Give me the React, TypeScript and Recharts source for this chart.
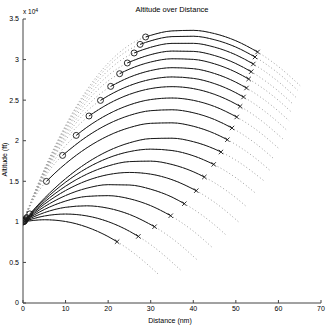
import React from 'react'
import { ComposedChart, Line, Scatter, XAxis, YAxis } from 'recharts'

const distanceTicks = [0, 10, 20, 30, 40, 50, 60, 70]
const altitudeTicks = [0, 5000, 10000, 15000, 20000, 25000, 30000, 35000]

// each trajectory: [distance (nm), altitude (ft)]
const c01 = [[0, 10000], [5, 16482], [10, 21902], [15, 26261], [20, 29558], [25, 31794], [28.8, 32783], [30, 32984], [35, 33531], [40, 33602], [45, 33198], [50, 32319], [55.1, 30934], [60, 29137], [65.1, 26782]]
const c02 = [[0, 10000], [5, 16417], [10, 21750], [15, 25998], [20, 29162], [25, 31241], [27.5, 31871], [30, 32311], [35, 32830], [40, 32875], [45, 32445], [50, 31539], [54.5, 30318], [60, 28304], [64.5, 26228]]
const c03 = [[0, 10000], [5, 16330], [10, 21549], [15, 25658], [20, 28656], [25, 30544], [26.1, 30811], [30, 31516], [35, 31995], [40, 32000], [45, 31530], [50, 30584], [54.1, 29455], [60, 27269], [64.1, 25360]]
const c04 = [[0, 10000], [5, 16222], [10, 21302], [15, 25240], [20, 28036], [24.5, 29579], [30, 30608], [35, 31047], [40, 31010], [45, 30497], [50, 29510], [53.6, 28506], [55, 28049], [60, 26111], [63.6, 24423]]
const c05 = [[0, 10000], [5, 16120], [10, 21055], [15, 24804], [20, 27368], [22.7, 28260], [25, 28825], [30, 29699], [35, 30099], [40, 30024], [45, 29474], [50, 28449], [53, 27606], [55, 26949], [60, 24974], [63, 23561]]
const c06 = [[0, 10000], [5, 15996], [10, 20746], [15, 24249], [20.6, 26695], [25, 27819], [30, 28647], [35, 29001], [40, 28879], [45, 28283], [50, 27211], [52.5, 26497], [55, 25664], [60, 23643], [62.5, 22454]]
const c07 = [[0, 10000], [5, 15893], [10, 20437], [15, 23633], [18.2, 24969], [20, 25534], [25, 26784], [30, 27559], [35, 27859], [40, 27684], [45, 27035], [50, 25910], [51.8, 25388], [55, 24310], [60, 22235], [61.8, 21372]]
const c08 = [[0, 10000], [5, 15805], [10, 20089], [15.5, 23047], [20, 24525], [25, 25712], [30, 26424], [35, 26662], [40, 26424], [45, 25712], [50, 24525], [51, 24230], [55, 22862], [61, 20240]]
const c09 = [[0, 10000], [5, 15566], [10, 19394], [12.5, 20656], [15, 21653], [20, 23268], [25, 24408], [30, 25073], [35, 25263], [40, 24978], [45, 24218], [50.2, 22923], [55, 21273], [60.2, 18990]]
const c10 = [[0, 10000], [2.5, 12965], [5, 15370], [7.5, 17212], [9.3, 18191], [15, 20518], [20, 22055], [25, 23116], [30, 23702], [35, 23813], [40, 23449], [45, 22611], [49.1, 21568], [55, 19508], [59.1, 17686]]
const c11 = [[0, 10000], [1, 11219], [2.5, 12788], [4, 14044], [5.5, 14986], [7.5, 16009], [10, 17166], [15, 19123], [20, 20605], [25, 21612], [30, 22144], [35, 22201], [40, 21783], [45, 20890], [48, 20126], [55, 17679], [58, 16345]]
const c12 = [[0, 10000], [1.6, 10979], [5, 12898], [10, 15320], [15, 17268], [20, 18741], [25, 19738], [30, 20261], [35, 20308], [40, 19881], [45, 18978], [46.5, 18615], [50, 17601], [56.5, 15100]]
const c13 = [[0, 10000], [0.9, 10518], [5, 12681], [10, 14887], [15, 16618], [20, 17873], [25, 18654], [30, 18960], [35, 18791], [40, 18147], [44.8, 17082], [50, 15434], [54.8, 13457]]
const c14 = [[0, 10000], [0.7, 10369], [5, 12435], [10, 14394], [15, 15879], [20, 16889], [25, 17424], [30, 17484], [35, 17069], [40, 16179], [42.6, 15528], [45, 14813], [50, 12973], [52.6, 11828]]
const c15 = [[0, 10000], [0.5, 10238], [5, 12167], [10, 13860], [15, 15078], [20, 15821], [25, 16089], [30, 15882], [35, 15200], [40.7, 13842], [45, 12411], [50.7, 9971]]
const c16 = [[0, 10000], [0.4, 10166], [5, 11858], [10, 13242], [15, 14150], [20, 14583], [25, 14541], [30, 14024], [35, 13049], [37.9, 12239], [40, 11566], [45, 9624], [47.9, 8280]]
const c17 = [[0, 10000], [0.3, 10105], [5, 11520], [10, 12565], [15, 13135], [20, 13230], [25, 12850], [30, 11995], [34.7, 10758], [40, 8860], [44.7, 6730]]
const c18 = [[0, 10000], [0.2, 10055], [5, 11134], [10, 11793], [15, 11976], [20, 11684], [25, 10918], [30.9, 9402], [35, 7960], [40.9, 5322]]
const c19 = [[0, 10000], [0.1, 10019], [5, 10719], [10, 10963], [15, 10732], [20, 10026], [25, 8844], [27.1, 8208], [30, 7190], [37.1, 4022]]
const c20 = [[0, 10000], [0.05, 10005], [5, 10260], [10, 10044], [15, 9354], [20, 8188], [22.1, 7556], [25, 6547], [32.1, 3401]]

// solid part of each trajectory runs from the circle to the cross
const circleX = [28.8, 27.5, 26.1, 24.5, 22.7, 20.6, 18.2, 15.5, 12.5, 9.3, 5.5, 1.6, 0.9, 0.7, 0.5, 0.4, 0.3, 0.2, 0.1, 0.05]
const crossX = [55.1, 54.5, 54.1, 53.6, 53, 52.5, 51.8, 51, 50.2, 49.1, 48, 46.5, 44.8, 42.6, 40.7, 37.9, 34.7, 30.9, 27.1, 22.1]

const curves = [c01, c02, c03, c04, c05, c06, c07, c08, c09, c10, c11, c12, c13, c14, c15, c16, c17, c18, c19, c20]

const font = "'Liberation Sans Narrow', 'Liberation Sans', Arial, sans-serif"
const ink = '#1a1a1a'
const axisColor = '#444'

const OpenCircle = (props: any) => (
  <circle cx={props.cx} cy={props.cy} r={3} fill="none" stroke={ink} strokeWidth={0.9} />
)

const XMark = (props: any) => {
  const s = 2.2
  return (
    <g stroke={ink} strokeWidth={0.9}>
      <line x1={props.cx - s} y1={props.cy - s} x2={props.cx + s} y2={props.cy + s} />
      <line x1={props.cx - s} y1={props.cy + s} x2={props.cx + s} y2={props.cy - s} />
    </g>
  )
}

export default function App() {
  const series = curves.map((c, i) => {
    const pts = c.map(([x, y]) => ({ x, y }))
    const solid = pts.filter(p => p.x >= circleX[i] && p.x <= crossX[i])
    return { pts, solid }
  })
  const circles = series.map(s => s.solid[0])
  const crosses = series.map(s => s.solid[s.solid.length - 1])

  const tickStyle = { fontSize: 7, fill: '#000', fontFamily: font }

  return (
    <div style={{ position: 'absolute', left: 0, top: 0, width: 327, height: 327, background: '#fff', color: '#000', fontFamily: font }}>
      <ComposedChart width={327} height={327} margin={{ top: 19, right: 6, left: 0, bottom: 0 }}>
        <XAxis
          dataKey="x"
          type="number"
          domain={[0, 70]}
          ticks={distanceTicks}
          height={24}
          tickSize={-3}
          tickMargin={6}
          tick={tickStyle}
          stroke={axisColor}
          allowDataOverflow
        />
        <XAxis
          xAxisId="top"
          orientation="top"
          type="number"
          domain={[0, 70]}
          ticks={distanceTicks}
          height={0}
          tickSize={-3}
          tick={false}
          stroke={axisColor}
        />
        <YAxis
          type="number"
          domain={[0, 35000]}
          ticks={altitudeTicks}
          width={23}
          tickSize={-3}
          tickMargin={7}
          tick={tickStyle}
          tickFormatter={(v: number) => String(v / 10000)}
          stroke={axisColor}
          allowDataOverflow
        />
        <YAxis
          yAxisId="right"
          orientation="right"
          type="number"
          domain={[0, 35000]}
          ticks={altitudeTicks}
          width={0}
          tickSize={-3}
          tick={false}
          stroke={axisColor}
        />
        {series.map((s, i) => (
          <Line
            key={'d' + i}
            data={s.pts}
            dataKey="y"
            type="monotone"
            stroke="#a0a0a0"
            strokeWidth={1}
            strokeDasharray="1 2.4"
            dot={false}
            activeDot={false}
            isAnimationActive={false}
          />
        ))}
        {series.map((s, i) => (
          <Line
            key={'s' + i}
            data={s.solid}
            dataKey="y"
            type="monotone"
            stroke={ink}
            strokeWidth={1}
            dot={false}
            activeDot={false}
            isAnimationActive={false}
          />
        ))}
        <Scatter data={circles} dataKey="y" shape={OpenCircle} isAnimationActive={false} />
        <Scatter data={crosses} dataKey="y" shape={XMark} isAnimationActive={false} />
      </ComposedChart>
      <div style={{ position: 'absolute', left: 0, width: 344, top: 5, textAlign: 'center', fontSize: 7.5, lineHeight: '9px', color: '#000' }}>
        Altitude over Distance
      </div>
      <div style={{ position: 'absolute', left: 23, top: 8, fontSize: 6.5, lineHeight: '8px' }}>
        x 10<sup style={{ fontSize: 5, position: 'relative', top: -2, verticalAlign: 'baseline' }}>4</sup>
      </div>
      <div style={{ position: 'absolute', left: 0, width: 340, top: 316, textAlign: 'center', fontSize: 7, lineHeight: '9px' }}>
        Distance (nm)
      </div>
      <div style={{ position: 'absolute', left: 4 - 40, top: 160 - 5, width: 80, textAlign: 'center', fontSize: 7, lineHeight: '9px', transform: 'rotate(-90deg)' }}>
        Altitude (ft)
      </div>
    </div>
  )
}
